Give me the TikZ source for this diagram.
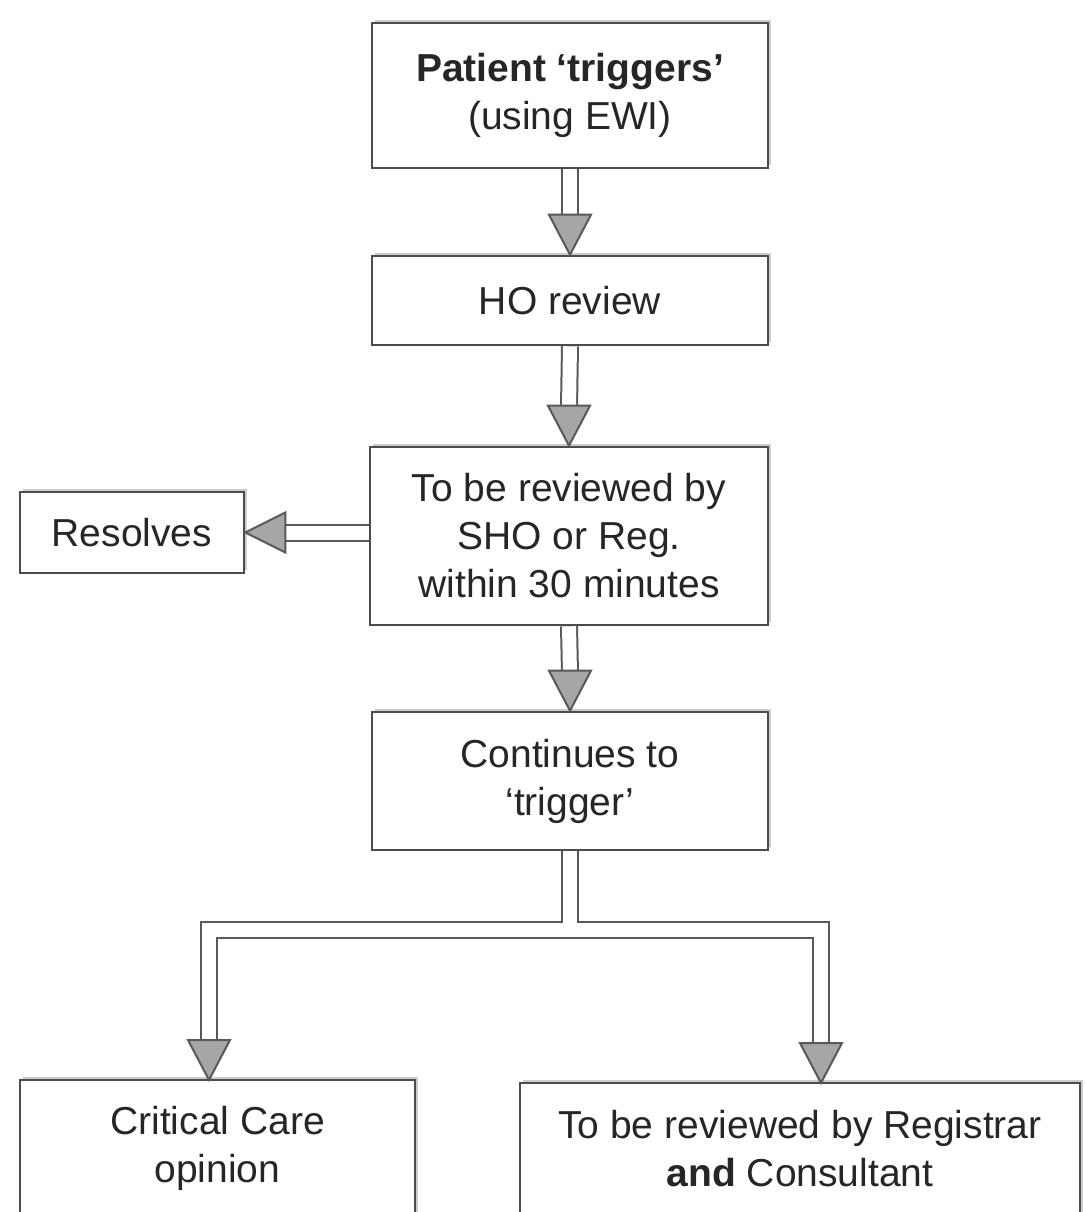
\documentclass[tikz,border=0pt]{standalone}
\usepackage{fontspec}
\setmainfont{Liberation Sans}
\usetikzlibrary{calc,shadows}

\tikzset{
  box/.style={draw=black!70, line width=1.3pt, fill=white, align=center,
    inner sep=0pt, text=black!85, font=\fontsize{19.5}{24}\selectfont,
    drop shadow={shadow xshift=1.5pt, shadow yshift=1.5pt, fill=black!40}},
  shaft/.style={draw=black!65, line width=1pt, double=white, double distance=7pt},
  head/.style={draw=black!65, line width=1pt, fill=black!35, line join=miter},
}

\begin{document}
\begin{tikzpicture}[x=0.5pt,y=0.5pt,yscale=-1]
\clip (0,0) rectangle (1086,1212);

% Text Node
\node[box, minimum width=198pt, minimum height=72.5pt] (trig) at (570,95.5)
  {\textbf{Patient ‘triggers’}\\(using EWI)};
% Text Node
\node[box, minimum width=198pt, minimum height=44.5pt] (ho) at (570,300.5)
  {HO review};
% Text Node
\node[box, minimum width=199pt, minimum height=89pt] (sho) at (569,536)
  {To be reviewed by\\SHO or Reg.\\within 30 minutes};
% Text Node
\node[box, minimum width=112pt, minimum height=40.5pt] (res) at (132,532.5)
  {Resolves};
% Text Node
\node[box, minimum width=198pt, minimum height=69pt] (cont) at (570,781)
  {Continues to\\‘trigger’};
% Text Node
\node[box, minimum width=197.5pt, minimum height=68pt] (crit) at (217.5,1148)
  {Critical Care\\opinion};
% Text Node
\node[box, minimum width=280pt, minimum height=66pt] (reg) at (800,1149)
  {To be reviewed by Registrar\\\textbf{and} Consultant};

\coordinate (tipL) at (209,1080);
\coordinate (tipR) at (821,1083);

% Connection
\draw[shaft] (trig.south) -- ($(ho.north)+(0,-38)$);
\draw[head] ($(ho.north)+(-21,-40)$) -- ($(ho.north)+(21,-40)$) -- (ho.north) -- cycle;
% Connection
\draw[shaft] (ho.south) -- ($(sho.north)+(0,-38)$);
\draw[head] ($(sho.north)+(-21,-40)$) -- ($(sho.north)+(21,-40)$) -- (sho.north) -- cycle;
% Connection
\draw[shaft] (sho.west |- res.east) -- ($(res.east)+(38,0)$);
\draw[head] ($(res.east)+(40,-20)$) -- ($(res.east)+(40,20)$) -- (res.east) -- cycle;
% Connection
\draw[shaft] (sho.south) -- ($(cont.north)+(0,-38)$);
\draw[head] ($(cont.north)+(-21,-40)$) -- ($(cont.north)+(21,-40)$) -- (cont.north) -- cycle;
% Connection (split in two)
\draw[shaft] (cont.south) -- ++(0,79) coordinate (split) -| ($(tipL)+(0,-38)$)
  (split) -| ($(tipR)+(0,-38)$);
\draw[head] ($(tipL)+(-21,-40)$) -- ($(tipL)+(21,-40)$) -- (tipL) -- cycle;
\draw[head] ($(tipR)+(-21,-40)$) -- ($(tipR)+(21,-40)$) -- (tipR) -- cycle;

\end{tikzpicture}
\end{document}
